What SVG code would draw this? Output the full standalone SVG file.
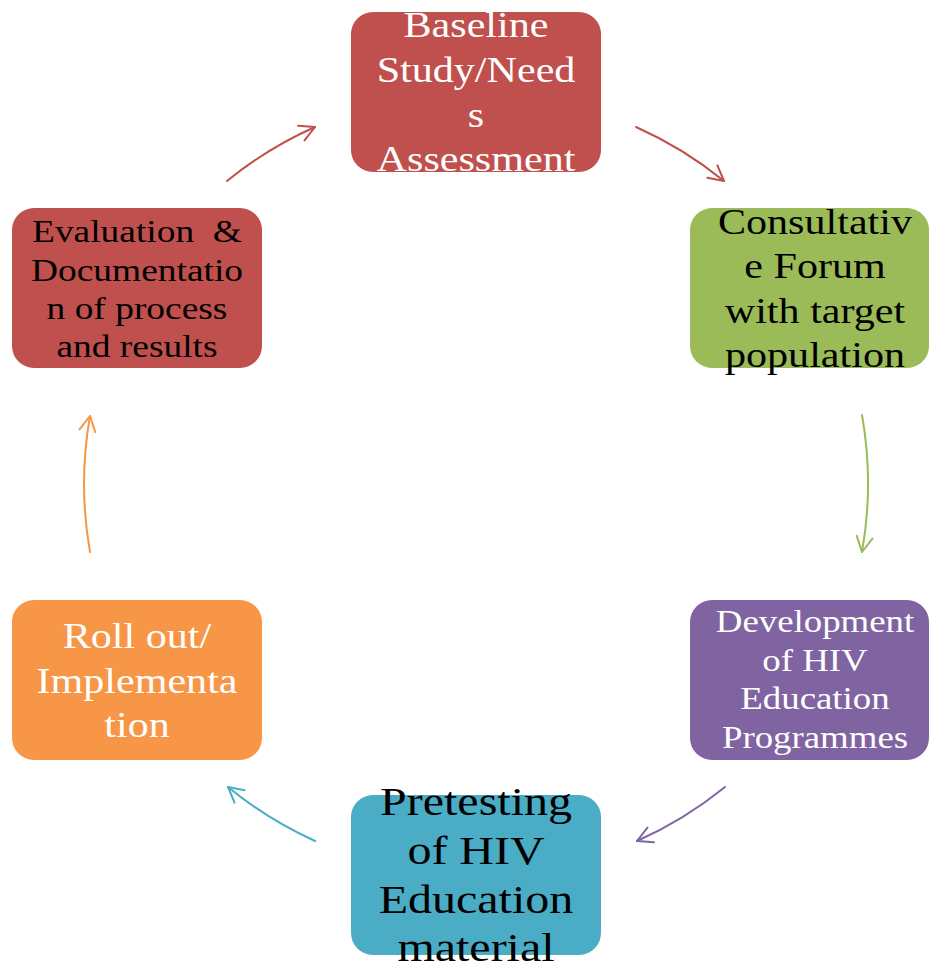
<svg xmlns="http://www.w3.org/2000/svg" width="929" height="966" viewBox="0 0 929 966">
  <style>
    .box { stroke: none; }
    .t { font-family: "Liberation Serif", "Times New Roman", serif; text-anchor: middle; }
    .w { fill: #ffffff; }
    .k { fill: #000000; }
    .arc { fill: none; stroke-width: 2; stroke-linecap: round; }
  </style>
  <defs>
    <marker id="ahRed" markerUnits="userSpaceOnUse" markerWidth="40" markerHeight="40" viewBox="-20 -20 40 40" refX="0" refY="0" orient="auto">
      <path d="M-15,-8 L0,0 L-15,8" fill="none" stroke="#C0504D" stroke-width="2" stroke-linecap="round" stroke-linejoin="round"/>
    </marker>
    <marker id="ahGreen" markerUnits="userSpaceOnUse" markerWidth="40" markerHeight="40" viewBox="-20 -20 40 40" refX="0" refY="0" orient="auto">
      <path d="M-15,-8 L0,0 L-15,8" fill="none" stroke="#9BBB59" stroke-width="2" stroke-linecap="round" stroke-linejoin="round"/>
    </marker>
    <marker id="ahPurple" markerUnits="userSpaceOnUse" markerWidth="40" markerHeight="40" viewBox="-20 -20 40 40" refX="0" refY="0" orient="auto">
      <path d="M-15,-8 L0,0 L-15,8" fill="none" stroke="#8064A2" stroke-width="2" stroke-linecap="round" stroke-linejoin="round"/>
    </marker>
    <marker id="ahBlue" markerUnits="userSpaceOnUse" markerWidth="40" markerHeight="40" viewBox="-20 -20 40 40" refX="0" refY="0" orient="auto">
      <path d="M-15,-8 L0,0 L-15,8" fill="none" stroke="#4BACC6" stroke-width="2" stroke-linecap="round" stroke-linejoin="round"/>
    </marker>
    <marker id="ahOrange" markerUnits="userSpaceOnUse" markerWidth="40" markerHeight="40" viewBox="-20 -20 40 40" refX="0" refY="0" orient="auto">
      <path d="M-15,-8 L0,0 L-15,8" fill="none" stroke="#F79646" stroke-width="2" stroke-linecap="round" stroke-linejoin="round"/>
    </marker>
  </defs>
  <rect width="929" height="966" fill="#ffffff"/>

  <g id="connectors">
    <path class="arc" stroke="#C0504D" marker-end="url(#ahRed)" d="M227,181 A392,392 0 0 1 315,127"/>
    <path class="arc" stroke="#C0504D" marker-end="url(#ahRed)" d="M636,127 A392,392 0 0 1 724,181"/>
    <path class="arc" stroke="#9BBB59" marker-end="url(#ahGreen)" d="M862,415 A392,392 0 0 1 862,552"/>
    <path class="arc" stroke="#8064A2" marker-end="url(#ahPurple)" d="M725,787 A392,392 0 0 1 637,841"/>
    <path class="arc" stroke="#4BACC6" marker-end="url(#ahBlue)" d="M315,841 A392,392 0 0 1 228,787"/>
    <path class="arc" stroke="#F79646" marker-end="url(#ahOrange)" d="M90,552 A392,392 0 0 1 90,416"/>
  </g>

  <g id="node-baseline">
    <rect class="box" x="351" y="12" width="250" height="160" rx="22" fill="#C0504D"/>
    <g transform="translate(476 0) scale(1.17 1)">
      <text class="t w" font-size="36"><tspan x="0" y="37">Baseline</tspan><tspan x="0" y="82">Study/Need</tspan><tspan x="0" y="127">s</tspan><tspan x="0" y="171">Assessment</tspan></text>
    </g>
  </g>

  <g id="node-consultative">
    <rect class="box" x="690" y="208" width="239" height="160" rx="22" fill="#9BBB59"/>
    <g transform="translate(815 0) scale(1.17 1)">
      <text class="t k" font-size="36"><tspan x="0" y="234">Consultativ</tspan><tspan x="0" y="278">e Forum</tspan><tspan x="0" y="323">with target</tspan><tspan x="0" y="367">population</tspan></text>
    </g>
  </g>

  <g id="node-development">
    <rect class="box" x="690" y="600" width="239" height="160" rx="22" fill="#8064A2"/>
    <g transform="translate(815 0) scale(1.17 1)">
      <text class="t w" font-size="31.5"><tspan x="0" y="632">Development</tspan><tspan x="0" y="671">of HIV</tspan><tspan x="0" y="709">Education</tspan><tspan x="0" y="748">Programmes</tspan></text>
    </g>
  </g>

  <g id="node-pretesting">
    <rect class="box" x="351" y="795" width="250" height="160" rx="22" fill="#4BACC6"/>
    <g transform="translate(476 0) scale(1.17 1)">
      <text class="t k" font-size="41"><tspan x="0" y="815">Pretesting</tspan><tspan x="0" y="864">of HIV</tspan><tspan x="0" y="913">Education</tspan><tspan x="0" y="961">material</tspan></text>
    </g>
  </g>

  <g id="node-rollout">
    <rect class="box" x="12" y="600" width="250" height="160" rx="22" fill="#F79646"/>
    <g transform="translate(137 0) scale(1.17 1)">
      <text class="t w" font-size="36"><tspan x="0" y="648">Roll out/</tspan><tspan x="0" y="693">Implementa</tspan><tspan x="0" y="737">tion</tspan></text>
    </g>
  </g>

  <g id="node-evaluation">
    <rect class="box" x="12" y="208" width="250" height="160" rx="22" fill="#C0504D"/>
    <g transform="translate(137 0) scale(1.17 1)">
      <text class="t k" font-size="32"><tspan x="0" y="242">Evaluation&#160; &amp;</tspan><tspan x="0" y="281">Documentatio</tspan><tspan x="0" y="319">n of process</tspan><tspan x="0" y="357">and results</tspan></text>
    </g>
  </g>
</svg>
